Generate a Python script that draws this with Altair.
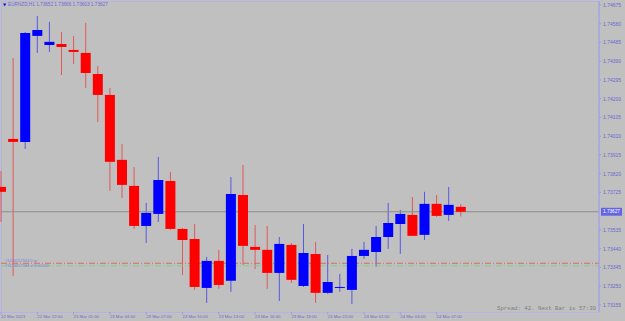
import altair as alt
import pandas as pd

# ---- data (EURNZD H1 candles) ----
opens  = [1.73753, 1.73996, 1.73981, 1.74518, 1.74472, 1.74477, 1.74447, 1.74432, 1.74325, 1.74219,
          1.73890, 1.73758, 1.73555, 1.73616, 1.73783, 1.73540, 1.73489, 1.73241, 1.73378, 1.73277,
          1.73712, 1.73449, 1.73434, 1.73317, 1.73459, 1.73251, 1.73413, 1.73216, 1.73241, 1.73231,
          1.73403, 1.73423, 1.73499, 1.73565, 1.73611, 1.73510, 1.73667, 1.73611, 1.73652]
highs  = [1.73834, 1.74406, 1.74538, 1.74619, 1.74589, 1.74538, 1.74518, 1.74584, 1.74366, 1.74254,
          1.73971, 1.73854, 1.73672, 1.73905, 1.73829, 1.73545, 1.73565, 1.73398, 1.73434, 1.73803,
          1.73864, 1.73560, 1.73555, 1.73499, 1.73469, 1.73565, 1.73474, 1.73408, 1.73312, 1.73439,
          1.73474, 1.73555, 1.73672, 1.73636, 1.73702, 1.73728, 1.73712, 1.73753, 1.73666]
lows   = [1.73575, 1.73302, 1.73945, 1.74432, 1.74437, 1.74320, 1.74376, 1.74254, 1.74082, 1.73733,
          1.73697, 1.73540, 1.73469, 1.73575, 1.73535, 1.73307, 1.73231, 1.73165, 1.73236, 1.73221,
          1.73358, 1.73337, 1.73236, 1.73175, 1.73266, 1.73246, 1.73165, 1.73211, 1.73221, 1.73160,
          1.73388, 1.73347, 1.73439, 1.73413, 1.73505, 1.73484, 1.73601, 1.73581, 1.73603]
closes = [1.73728, 1.73981, 1.74533, 1.74548, 1.74488, 1.74462, 1.74437, 1.74330, 1.74219, 1.73880,
          1.73763, 1.73555, 1.73621, 1.73788, 1.73540, 1.73484, 1.73246, 1.73378, 1.73256, 1.73717,
          1.73454, 1.73434, 1.73317, 1.73464, 1.73282, 1.73418, 1.73216, 1.73271, 1.73246, 1.73403,
          1.73434, 1.73499, 1.73570, 1.73616, 1.73505, 1.73667, 1.73606, 1.73662, 1.73627]

time_ticks = [0, 3, 6, 9, 12, 15, 18, 21, 24, 27, 30, 33, 36]
time_labels = ["22 Mar 2023", "22 Mar 22:00", "23 Mar 01:00", "23 Mar 04:00", "23 Mar 07:00",
               "23 Mar 10:00", "23 Mar 13:00", "23 Mar 16:00", "23 Mar 19:00", "23 Mar 22:00",
               "24 Mar 01:00", "24 Mar 04:00", "24 Mar 07:00"]
price_ticks = [1.74675, 1.74580, 1.74485, 1.74390, 1.74295, 1.74200, 1.74105, 1.74010, 1.73915,
               1.73820, 1.73725, 1.73535, 1.73440, 1.73345, 1.73250, 1.73155]
current_price = 1.73627
tp_level = 1.73366
sl_level = 1.73353
level_labels = ["#3113257344 0 tp", "#3113257344 sl:0.00000"]
header = "EURNZD,H1  1.73652 1.73666 1.73603 1.73627"
footer = "Spread: 42. Next Bar is 57:30"

# ---- layout ----
W, H = 598, 311
X_DOM = [0, 598 / 12.1]
Y_DOM = [1.73119, 1.74695]

AXC = "#9C9CE0"
LBL = "#6A6AD0"
RED = "#FF0000"
BLUE = "#0000FF"

df = pd.DataFrame({"i": list(range(len(opens))), "open": opens, "high": highs,
                   "low": lows, "close": closes})
df["dir"] = ["up" if c >= o else "down" for o, c in zip(opens, closes)]

xs = alt.Scale(domain=X_DOM, nice=False, zero=False, padding=0)
ys = alt.Scale(domain=Y_DOM, nice=False, zero=False, padding=0)
col = alt.Color("dir:N", scale=alt.Scale(domain=["up", "down"], range=[BLUE, RED]), legend=None)

def X(f):
    return alt.X(f, scale=xs, axis=None)

def Y(f):
    return alt.Y(f, scale=ys, axis=None)

base = alt.Chart(df)

wicks = base.mark_rule(strokeWidth=1, opacity=0.55).encode(
    x=X("i:Q"), y=Y("low:Q"), y2="high:Q", color=col)

bodies = base.mark_bar(size=10).encode(
    x=X("i:Q"), y=Y("open:Q"), y2="close:Q", color=col)

def hline(p, color, dash=None):
    kw = dict(color=color, strokeWidth=1)
    if dash:
        kw["strokeDash"] = dash
    return alt.Chart(pd.DataFrame({"p": [p]})).mark_rule(**kw).encode(
        y=Y("p:Q"), x=alt.value(0), x2=alt.value(W))

cur_line = hline(current_price, "#8C8C8C")
tp_line = hline(tp_level, "#E06666", [6, 2, 1, 2])
sl_line = hline(sl_level, "#7FD27F", [6, 2, 1, 2])

lvl_txt = pd.DataFrame({"p": [tp_level + 0.00010, sl_level - 0.00002], "t": level_labels})
lvl_text = alt.Chart(lvl_txt).mark_text(align="left", baseline="middle", font="Liberation Sans",
                                        fontSize=4, color="#7E7ED6").encode(
    y=Y("p:Q"), x=alt.value(4), text="t:N")

# right price axis (drawn as marks)
axis_line = alt.Chart(pd.DataFrame({"a": [0]})).mark_rule(color=AXC, strokeWidth=1).encode(
    x=alt.value(W), y=alt.value(0), y2=alt.value(H))
pt_df = pd.DataFrame({"p": price_ticks, "t": [f"{v:.5f}" for v in price_ticks]})
p_ticks = alt.Chart(pt_df).mark_rule(color=AXC, strokeWidth=1).encode(
    y=Y("p:Q"), x=alt.value(W), x2=alt.value(W + 2))
p_labels = alt.Chart(pt_df).mark_text(align="left", baseline="middle", font="Liberation Sans",
                                      fontSize=5, color=LBL).encode(
    y=Y("p:Q"), x=alt.value(W + 4), text="t:N")

# current price tag on the right axis
tag_df = pd.DataFrame({"p": [current_price], "t": [f"{current_price:.5f}"]})
tag_df["top"] = tag_df["p"] + 0.0002
tag_df["bot"] = tag_df["p"] - 0.0002
tag_rect = alt.Chart(tag_df).mark_rect(color="#6464E6").encode(
    y=Y("top:Q"), y2="bot:Q", x=alt.value(W + 2), x2=alt.value(W + 23))
tag_text = alt.Chart(tag_df).mark_text(align="left", baseline="middle", font="Liberation Sans",
                                       fontSize=4.7, color="white").encode(
    y=Y("p:Q"), x=alt.value(W + 4), text="t:N")

# time axis (drawn as marks)
tl_df = pd.DataFrame({"i": time_ticks, "t": time_labels})
t_ticks = alt.Chart(tl_df).mark_rule(color=AXC, strokeWidth=1).encode(
    x=X("i:Q"), y=alt.value(H), y2=alt.value(H + 2.5))
time_text = alt.Chart(tl_df).mark_text(align="left", baseline="middle", font="Liberation Sans",
                                       fontSize=4.3, color=LBL).encode(
    x=X("i:Q"), y=alt.value(H + 4.5), text="t:N")

hdr_df = pd.DataFrame({"t": [header]})
hdr_text = alt.Chart(hdr_df).mark_text(align="left", baseline="middle", font="Liberation Sans",
                                       fontSize=4.7, color=LBL).encode(
    x=alt.value(7), y=alt.value(4), text="t:N")
tri = alt.Chart(pd.DataFrame({"t": ["▼"]})).mark_text(align="left", baseline="middle",
                                                    font="DejaVu Sans", fontSize=4, color=BLUE).encode(
    x=alt.value(2), y=alt.value(4), text="t:N")

ftr_df = pd.DataFrame({"t": [footer]})
ftr_text = alt.Chart(ftr_df).mark_text(align="right", baseline="middle", font="Liberation Mono",
                                       fontSize=5.7, color="#7E7E7E").encode(
    x=alt.value(W - 3), y=alt.value(H - 4), text="t:N")

chart = alt.layer(
    wicks, cur_line, tp_line, sl_line, bodies, lvl_text, axis_line, p_ticks, p_labels,
    tag_rect, tag_text, t_ticks, time_text, hdr_text, tri, ftr_text
).properties(
    width=W, height=H,
    autosize=alt.AutoSizeParams(type="none"),
    padding={"left": 1, "top": 1, "right": 26, "bottom": 9},
    background="#C0C0C0",
).configure_view(
    stroke="#B4B4E4", strokeWidth=1, fill="#C0C0C0"
)

chart.save("out.html", embed_options={"renderer": "svg", "actions": False})
